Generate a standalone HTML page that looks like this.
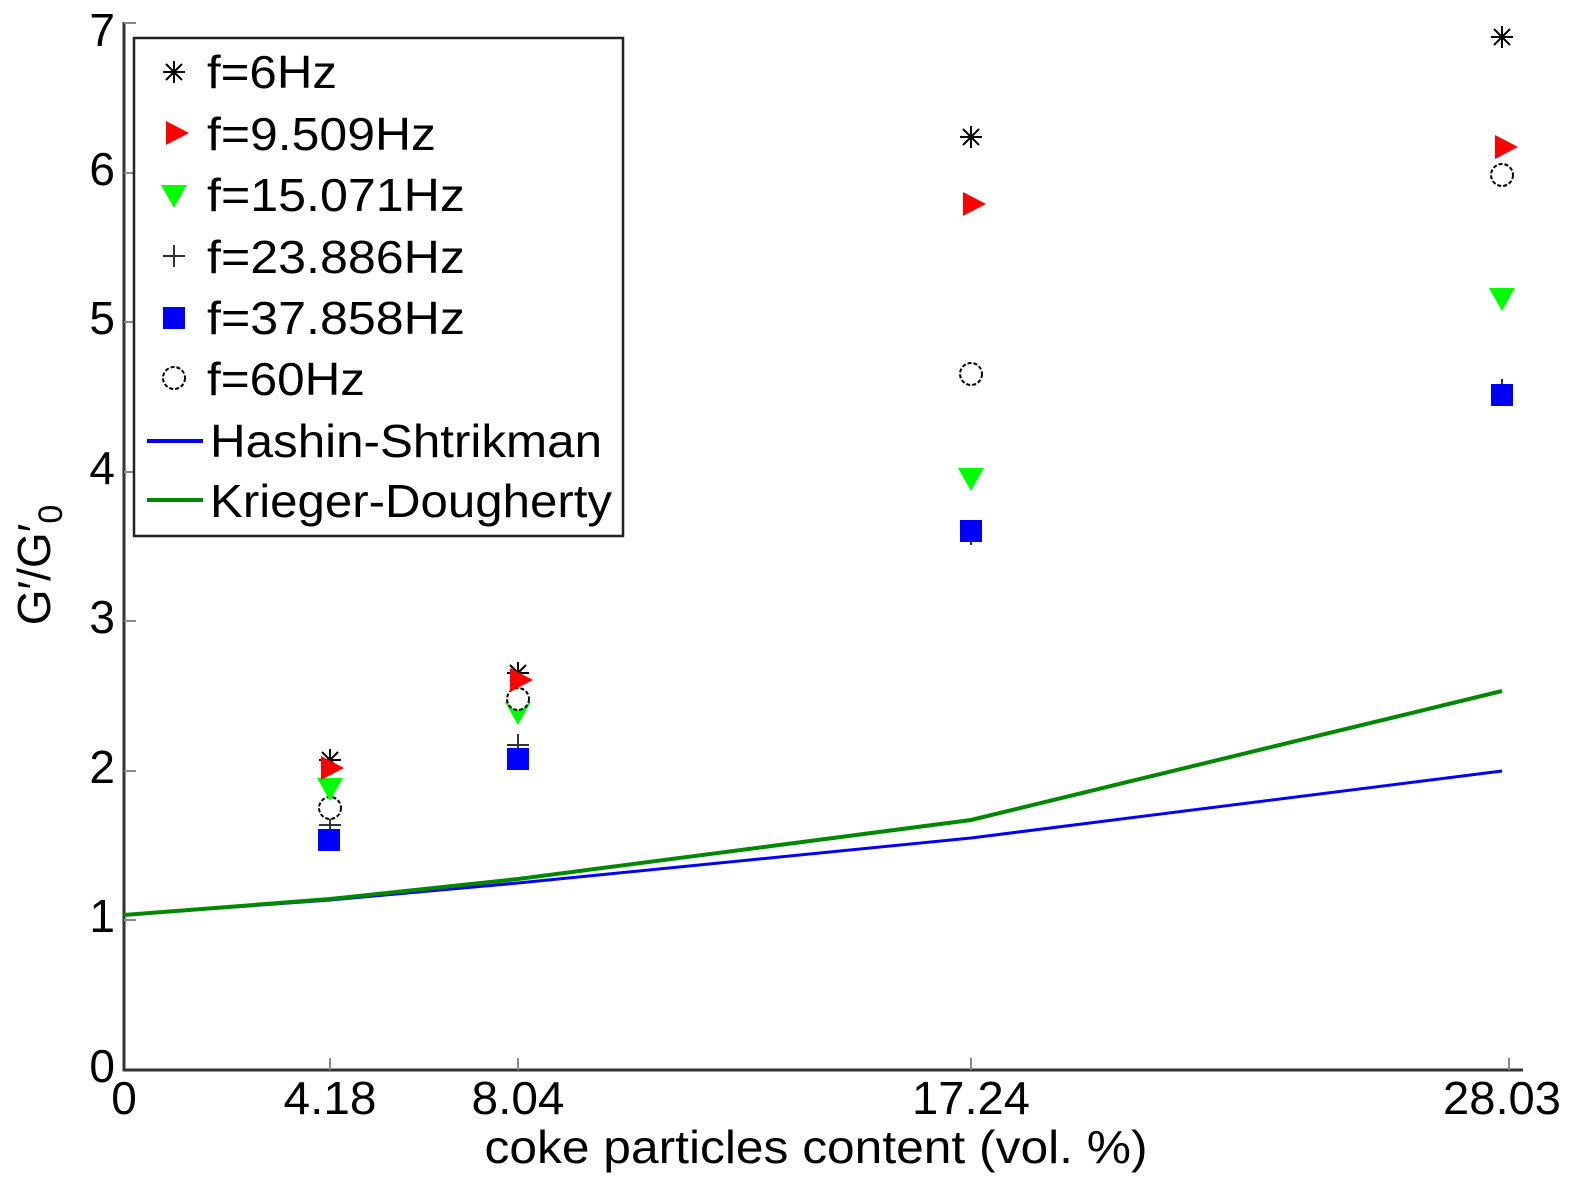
<!DOCTYPE html>
<html><head><meta charset="utf-8"><style>body{margin:0;background:#fff}svg{display:block}</style></head>
<body>
<svg width="1574" height="1190" xmlns="http://www.w3.org/2000/svg" font-family="Liberation Sans, Arial, sans-serif">
<defs>
<g id="star"><path d="M-11,0H11M0,-11V11M-8,-8L8,8M-8,8L8,-8" stroke="#000" stroke-width="2" fill="none"/></g>
<g id="plus"><path d="M-11,0H11M0,-11V11" stroke="#333" stroke-width="2" fill="none"/></g>
<g id="rt"><path d="M-10,-12L13,0L-10,12Z" fill="#f00"/></g>
<g id="dn"><path d="M-13,-10H13L0,13Z" fill="#0f0"/></g>
<g id="sq"><rect x="-11" y="-11" width="22" height="22" fill="#00f"/></g>
<g id="ci"><circle r="11" fill="#fff" stroke="#000" stroke-width="2" stroke-dasharray="4,2"/></g>
</defs>
<path d="M124,22V1070H1523" stroke="#333" stroke-width="3" fill="none"/>
<g stroke="#888" stroke-width="2">
<path d="M124,920h12M124,771h12M124,621h12M124,472h12M124,322h12M124,173h12M124,23h12"/>
<path d="M330,1070v-12M518,1070v-12M971,1070v-12M1509,1070v-12"/>
</g>
<g font-size="46" text-anchor="end">
<text x="115" y="1082">0</text><text x="115" y="932">1</text><text x="115" y="783">2</text>
<text x="115" y="633">3</text><text x="115" y="484">4</text><text x="115" y="334">5</text>
<text x="115" y="185">6</text><text x="115" y="46">7</text>
</g>
<g font-size="46" text-anchor="middle" lengthAdjust="spacingAndGlyphs">
<text x="124" y="1114">0</text>
<text x="330" y="1114" textLength="93" lengthAdjust="spacingAndGlyphs">4.18</text>
<text x="518" y="1114" textLength="93" lengthAdjust="spacingAndGlyphs">8.04</text>
<text x="971" y="1114" textLength="118" lengthAdjust="spacingAndGlyphs">17.24</text>
<text x="1502" y="1114" textLength="118" lengthAdjust="spacingAndGlyphs">28.03</text>
<text x="816" y="1163" textLength="663" lengthAdjust="spacingAndGlyphs">coke particles content (vol. %)</text>
</g>
<text transform="translate(50,565) rotate(-90)" font-size="46" text-anchor="middle">G′/G′<tspan font-size="34" dy="12">0</tspan></text>
<polyline points="124,915 330,900 518,883 971,838 1502,771" fill="none" stroke="#00f" stroke-width="3"/>
<polyline points="124,915 330,899 518,879 971,820 1502,691" fill="none" stroke="#080" stroke-width="4"/>
<use href="#plus" x="330" y="825"/><use href="#sq" x="329" y="840"/><use href="#ci" x="330" y="808"/><use href="#dn" x="330" y="788"/><use href="#star" x="330" y="760"/><use href="#rt" x="331" y="768"/>
<use href="#plus" x="518" y="745"/><use href="#sq" x="518" y="759"/><use href="#dn" x="518" y="712"/><use href="#ci" x="518" y="699"/><use href="#star" x="518" y="673"/><use href="#rt" x="520" y="680"/>
<use href="#plus" x="971" y="534"/><use href="#sq" x="971" y="531"/><use href="#dn" x="971" y="478"/><use href="#ci" x="971" y="374"/><use href="#star" x="971" y="137"/><use href="#rt" x="973" y="204"/>
<use href="#plus" x="1502" y="390"/><use href="#sq" x="1502" y="395"/><use href="#dn" x="1502" y="298"/><use href="#ci" x="1502" y="175"/><use href="#star" x="1502" y="37"/><use href="#rt" x="1505" y="147"/>
<rect x="134" y="38" width="489" height="498" fill="#fff" stroke="#222" stroke-width="2.5"/>
<use href="#star" x="174" y="72"/><use href="#rt" x="176" y="133"/><use href="#dn" x="174" y="195"/>
<use href="#plus" x="174" y="256"/><use href="#sq" x="174" y="318"/><use href="#ci" x="174" y="378"/>
<line x1="147" y1="441" x2="203" y2="441" stroke="#00f" stroke-width="4"/>
<line x1="147" y1="500" x2="203" y2="500" stroke="#080" stroke-width="4"/>
<g font-size="46">
<text x="207" y="88" textLength="130" lengthAdjust="spacingAndGlyphs">f=6Hz</text>
<text x="207" y="150" textLength="229" lengthAdjust="spacingAndGlyphs">f=9.509Hz</text>
<text x="207" y="211" textLength="258" lengthAdjust="spacingAndGlyphs">f=15.071Hz</text>
<text x="207" y="273" textLength="258" lengthAdjust="spacingAndGlyphs">f=23.886Hz</text>
<text x="207" y="334" textLength="258" lengthAdjust="spacingAndGlyphs">f=37.858Hz</text>
<text x="207" y="395" textLength="158" lengthAdjust="spacingAndGlyphs">f=60Hz</text>
<text x="210" y="457" textLength="392" lengthAdjust="spacingAndGlyphs">Hashin-Shtrikman</text>
<text x="210" y="517" textLength="402" lengthAdjust="spacingAndGlyphs">Krieger-Dougherty</text>
</g>
</svg>
</body></html>
